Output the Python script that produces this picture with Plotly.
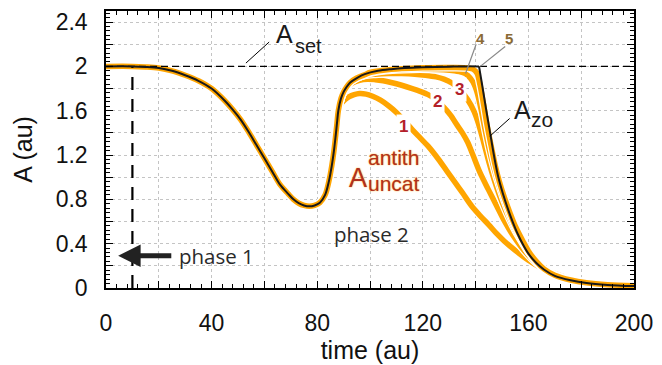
import plotly.graph_objects as go

# ---------------- data ----------------
# shared part of all curves (phase 1 + start of phase 2)
t_shared = [0, 10, 15, 20, 25, 30, 35, 40, 45, 48, 51, 54, 57, 60, 63, 66, 69, 71, 73, 75,
            77, 79, 81, 83, 84.4, 85.5, 86.3, 87, 87.5, 88]
a_shared = [2.0, 2.0, 1.995, 1.985, 1.96, 1.92, 1.87, 1.80, 1.69, 1.61, 1.52, 1.41, 1.29, 1.17,
            1.05, 0.93, 0.85, 0.80, 0.765, 0.745, 0.737, 0.745, 0.77, 0.84, 0.96, 1.10, 1.23,
            1.375, 1.49, 1.60]

# A_zo (black)
t_zo = [89, 90, 91, 92.5, 95, 98, 103, 108, 113, 120, 130, 136, 141.3, 142.5, 144, 145.5, 147,
        148.5, 150.3, 152.3, 154, 156, 158, 160, 163, 166, 170, 176, 182, 190, 200]
a_zo = [1.71, 1.77, 1.81, 1.855, 1.895, 1.93, 1.96, 1.975, 1.985, 1.992, 1.997, 2.0, 2.0, 1.83,
        1.61, 1.40, 1.19, 1.01, 0.855, 0.71, 0.60, 0.485, 0.39, 0.31, 0.225, 0.165, 0.11, 0.07,
        0.045, 0.028, 0.017]
t_zo_corner = 141.3

# A_uncat^antith curves 1..5 (orange)
t_c1 = [89, 90.5, 92, 94, 96, 98.5, 101, 104, 107, 110, 113, 116, 119, 122, 126, 129, 132, 135,
        138.5, 142, 145, 148, 151, 155, 160, 165, 170, 175, 180, 185, 190, 200]
a_c1 = [1.66, 1.70, 1.725, 1.745, 1.755, 1.75, 1.73, 1.695, 1.645, 1.585, 1.51, 1.43, 1.355,
        1.28, 1.16, 1.06, 0.96, 0.86, 0.74, 0.645, 0.57, 0.49, 0.42, 0.34, 0.25, 0.18, 0.13,
        0.09, 0.062, 0.045, 0.035, 0.02]

t_c2 = [89, 90, 91, 93, 96, 99, 102, 105, 108, 112, 116, 119, 122, 125, 128, 130.5, 133, 135,
        137, 139, 141.5, 144.8, 148, 151, 154, 157.3, 160, 163, 166, 170, 176, 182, 190, 200]
a_c2 = [1.71, 1.77, 1.80, 1.845, 1.875, 1.885, 1.88, 1.87, 1.855, 1.83, 1.80, 1.775, 1.745, 1.70,
        1.63, 1.56, 1.47, 1.40, 1.315, 1.20, 1.05, 0.89, 0.74, 0.60, 0.48, 0.37, 0.295, 0.225,
        0.17, 0.12, 0.077, 0.05, 0.03, 0.02]

t_c3 = [89, 90, 91, 92.5, 95, 98, 102, 107, 112, 117, 121, 125, 128, 131, 134, 137, 139.5, 141,
        143, 145, 147, 149, 151, 153, 155, 158, 160, 163, 166, 170, 176, 182, 190, 200]
a_c3 = [1.71, 1.77, 1.81, 1.855, 1.895, 1.92, 1.93, 1.935, 1.935, 1.93, 1.92, 1.905, 1.885, 1.85,
        1.79, 1.70, 1.59, 1.49, 1.32, 1.14, 0.98, 0.84, 0.72, 0.615, 0.52, 0.40, 0.325, 0.235,
        0.17, 0.115, 0.072, 0.047, 0.03, 0.02]

t_c4 = [89, 90, 91, 92.5, 95, 98, 100, 105, 110, 116, 122, 128, 132, 135, 137, 139, 140.5, 142,
        143.5, 145, 147, 149, 151, 153, 155, 158, 160, 163, 166, 170, 176, 182, 190, 200]
a_c4 = [1.71, 1.77, 1.81, 1.855, 1.895, 1.925, 1.94, 1.96, 1.97, 1.975, 1.975, 1.97, 1.96, 1.945,
        1.92, 1.86, 1.77, 1.62, 1.44, 1.27, 1.08, 0.92, 0.78, 0.65, 0.54, 0.41, 0.33, 0.235, 0.17,
        0.115, 0.072, 0.047, 0.03, 0.02]

t_c5 = [89, 90, 91, 92.5, 95, 98, 100, 105, 112, 120, 130, 136, 139, 140.5, 141.7, 143, 144.5,
        146, 147.5, 149, 151, 153, 155, 158, 160, 163, 166, 170, 176, 182, 190, 200]
a_c5 = [1.71, 1.77, 1.81, 1.855, 1.895, 1.925, 1.945, 1.965, 1.98, 1.988, 1.99, 1.988, 1.975,
        1.94, 1.83, 1.66, 1.45, 1.27, 1.10, 0.96, 0.81, 0.68, 0.56, 0.42, 0.335, 0.24, 0.17,
        0.115, 0.072, 0.047, 0.03, 0.02]

a_set = 2.0          # set point
t_phase_switch = 10  # vertical dashed line
t_range = [0, 200]

x_tick_vals = [0, 20, 40, 60, 80, 100, 120, 140, 160, 180, 200]
x_tick_text = ["0", "", "40", "", "80", "", "120", "", "160", "", "200"]
y_tick_vals = [0, 0.2, 0.4, 0.6, 0.8, 1.0, 1.2, 1.4, 1.6, 1.8, 2.0, 2.2, 2.4]
y_tick_text = ["0", "", "0.4", "", "0.8", "", "1.2", "", "1.6", "", "2", "", "2.4"]

ORANGE = "#FFA500"
FONT = "Liberation Sans"

fig = go.Figure()

# orange curves with thin white halo
for tt, aa in [(t_c1, a_c1), (t_c2, a_c2), (t_c3, a_c3), (t_c4, a_c4), (t_c5, a_c5)]:
    xs = t_shared + tt
    ys = a_shared + aa
    fig.add_trace(go.Scatter(x=xs, y=ys, mode="lines",
                             line=dict(color="white", width=8, shape="spline", smoothing=0.9),
                             hoverinfo="skip", showlegend=False))
    fig.add_trace(go.Scatter(x=xs, y=ys, mode="lines",
                             line=dict(color=ORANGE, width=5.5, shape="spline", smoothing=0.9),
                             showlegend=False))

# set point dashed line
fig.add_trace(go.Scatter(x=t_range, y=[a_set, a_set], mode="lines",
                         line=dict(color="black", width=1.2, dash="7px,4px"),
                         showlegend=False))
# vertical dashed line (end of phase 1)
fig.add_trace(go.Scatter(x=[t_phase_switch, t_phase_switch], y=[0, a_set], mode="lines",
                         line=dict(color="black", width=2.2, dash="13px,9px"),
                         showlegend=False))

# A_zo black, split at its sharp corner so the spline does not round it
zx = t_shared + t_zo
zy = a_shared + a_zo
k = zx.index(t_zo_corner)
for xs, ys in [(zx[:k + 1], zy[:k + 1]), (zx[k:], zy[k:])]:
    fig.add_trace(go.Scatter(x=xs, y=ys, mode="lines",
                             line=dict(color="#1a1a1a", width=2, shape="spline", smoothing=0.9),
                             showlegend=False))

# pointer lines
def seg(x0, y0, x1, y1, color="black", width=1):
    fig.add_shape(type="line", x0=x0, y0=y0, x1=x1, y1=y1, xref="x", yref="y",
                  line=dict(color=color, width=width))

seg(53.0, 2.03, 61.8, 2.22)          # A_set
seg(145.4, 1.37, 152.9, 1.53)        # A_zo
seg(140.2, 2.20, 136.2, 1.936, "#888", 1.2)  # 4
seg(151.2, 2.18, 141.8, 2.0, "#888", 1.2)    # 5

ann = []
def text(x, y, s, size, color="#1a1a1a", family=FONT, **kw):
    ann.append(dict(x=x, y=y, xref="x", yref="y", text=s, showarrow=False,
                    font=dict(size=size, color=color, family=family, **kw.pop("fkw", {})),
                    **kw))

text(67.5, 2.29, "A", 25)
text(76.6, 2.18, "set", 20)
text(157.6, 1.61, "A", 25)
text(165.2, 1.525, "zo", 21)

UNC = "#B03020"
glow = dict(shadow="0px 0px 1.5px #FFA500")
text(95.6, 0.99, "A", 27, UNC, fkw=glow)
text(108.9, 1.175, "antith", 21, UNC, fkw=glow)
text(108.9, 0.94, "uncat", 21, UNC, fkw=glow)

NUMC = "#B3202A"
for xx, yy, s in [(112.8, 1.46, "1"), (125.5, 1.68, "2"), (134.0, 1.79, "3")]:
    ann.append(dict(x=xx, y=yy, xref="x", yref="y", text="<b>%s</b>" % s, showarrow=False,
                    bgcolor="white", borderpad=2,
                    font=dict(size=17, color=NUMC, family=FONT)))
for xx, yy, s in [(141.8, 2.25, "4"), (152.5, 2.25, "5")]:
    text(xx, yy, "<b>%s</b>" % s, 15, "#8A6A35")

PH = "Open Sans"
text(41.8, 0.29, "phase 1", 20.5, "#2a2a2a", PH)
text(100.7, 0.49, "phase 2", 20.5, "#2a2a2a", PH)
ann.append(dict(x=4.6, y=0.29, ax=25.3, ay=0.29, xref="x", yref="y", axref="x", ayref="y",
                text="", showarrow=True, arrowhead=2, arrowsize=0.9, arrowwidth=5,
                arrowcolor="#222"))

fig.update_layout(
    width=662, height=365,
    margin=dict(l=106, r=25, t=9, b=70),
    paper_bgcolor="white", plot_bgcolor="white",
    annotations=ann,
    font=dict(family=FONT, color="#111"),
)

axis_common = dict(
    showline=True, linecolor="black", linewidth=1.5, mirror="allticks",
    ticks="inside", ticklen=7, tickwidth=1, tickcolor="black",
    showgrid=True, gridcolor="#c4c4c4", griddash="dot", gridwidth=1,
    zeroline=False, tickfont=dict(size=23, family=FONT, color="#111"),
)
fig.update_xaxes(range=t_range, tickmode="array", tickvals=x_tick_vals, ticktext=x_tick_text,
                 ticklabelstandoff=14,
                 minor=dict(tickmode="linear", tick0=0, dtick=4, ticks="inside", ticklen=4,
                            tickcolor="black", showgrid=False),
                 title=dict(text="time (au)", font=dict(size=25, family=FONT, color="#111"),
                            standoff=2),
                 **axis_common)
fig.update_yaxes(range=[0, 2.5], tickmode="array", tickvals=y_tick_vals, ticktext=y_tick_text,
                 ticklabelstandoff=12,
                 minor=dict(tickmode="linear", tick0=0, dtick=0.04, ticks="inside", ticklen=4,
                            tickcolor="black", showgrid=False),
                 title=dict(text="A (au)", font=dict(size=25, family=FONT, color="#111"),
                            standoff=16),
                 **axis_common)

fig.write_html("out.html")
